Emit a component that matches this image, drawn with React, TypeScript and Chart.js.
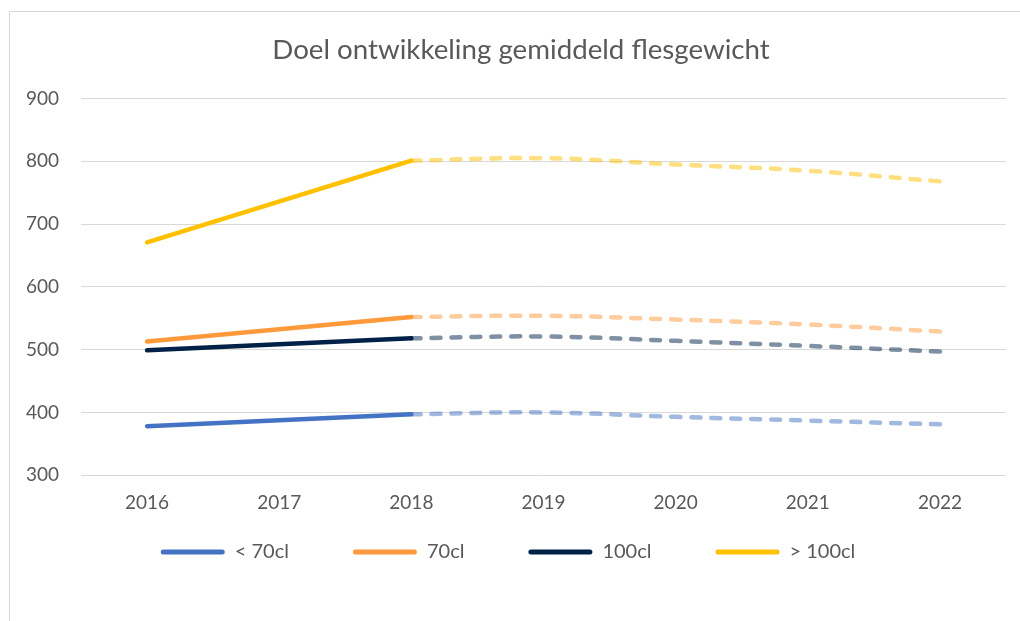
import React, { useEffect, useRef } from "react";
import { Chart, registerables } from "chart.js";

Chart.register(...registerables);

const years = ["2016", "2017", "2018", "2019", "2020", "2021", "2022"];
const yTicks = [300, 400, 500, 600, 700, 800, 900];
const seriesNames = ["< 70cl", "70cl", "100cl", "> 100cl"];
const seriesColors = ["#4472C4", "#FF9A3C", "#002147", "#FFC000"];
const targetColors = [
  "rgba(68,114,196,0.5)",
  "rgba(255,154,60,0.5)",
  "rgba(0,33,71,0.5)",
  "rgba(255,192,0,0.5)",
];

// actual (solid) values 2016-2018
const actualLt70 = [378, null, 397, null, null, null, null];
const actual70 = [513, null, 552, null, null, null, null];
const actual100 = [499, null, 518, null, null, null, null];
const actualGt100 = [671, null, 801, null, null, null, null];

// target (dashed) values 2018-2022
const targetLt70 = [null, null, 397, 400, 393, 387, 381];
const target70 = [null, null, 552, 554, 548, 540, 529];
const target100 = [null, null, 518, 521, 514, 506, 497];
const targetGt100 = [null, null, 801, 805, 795, 785, 768];

const actuals = [actualLt70, actual70, actual100, actualGt100];
const targets = [targetLt70, target70, target100, targetGt100];

const FONT = "Lato, 'Open Sans', sans-serif";
const TEXT = "#595959";

// keeps the wide horizontal spacing of legend items without the tall legend box,
// and nudges the title to the reference's horizontal position
const layoutTweakPlugin = {
  id: "layoutTweak",
  beforeLayout(chart: any) {
    const lg = chart.legend;
    if (lg && !lg.__patched) {
      const orig = lg.fit.bind(lg);
      lg.fit = function () {
        orig();
        this.height = 60;
      };
      lg.__patched = true;
    }
  },
  afterLayout(chart: any) {
    const lg = chart.legend;
    if (lg) {
      lg.top -= 52;
      lg.height = 110;
      lg.bottom = lg.top + 110;
    }
    const tb = chart.titleBlock;
    if (tb) {
      tb.left += 13;
      tb.right += 13;
    }
  },
};

export default function App() {
  const ref = useRef<HTMLCanvasElement | null>(null);

  useEffect(() => {
    if (!ref.current) return;
    const datasets: any[] = [];
    actuals.forEach((d, i) => {
      datasets.push({
        label: seriesNames[i],
        data: d,
        borderColor: seriesColors[i],
        backgroundColor: seriesColors[i],
        borderWidth: 4.5,
        borderCapStyle: "round",
        pointRadius: 0,
        spanGaps: true,
        tension: 0,
        order: 1,
      });
    });
    targets.forEach((d, i) => {
      datasets.push({
        label: seriesNames[i] + " doel",
        data: d,
        borderColor: targetColors[i],
        backgroundColor: targetColors[i],
        borderWidth: 4.5,
        borderDash: [9, 11],
        borderCapStyle: "round",
        pointRadius: 0,
        tension: 0.4,
        order: 2,
      });
    });

    const chart = new Chart(ref.current, {
      type: "line",
      data: { labels: years, datasets },
      plugins: [layoutTweakPlugin],
      options: {
        animation: false,
        responsive: true,
        maintainAspectRatio: false,
        layout: { padding: { left: 0, right: 14, top: 0, bottom: 31 } },
        plugins: {
          title: {
            display: true,
            text: "Doel ontwikkeling gemiddeld flesgewicht",
            color: TEXT,
            font: { family: FONT, size: 27.7, weight: "normal" },
            padding: { top: 21, bottom: 32.3 },
          },
          legend: {
            position: "bottom",
            labels: {
              color: TEXT,
              font: { family: FONT, size: 20 },
              boxWidth: 64,
              boxHeight: 5,
              padding: 64,
              useBorderRadius: true,
              generateLabels: (c: any) =>
                c.data.datasets.slice(0, 4).map((ds: any, i: number) => ({
                  text: ds.label,
                  fillStyle: ds.borderColor,
                  strokeStyle: ds.borderColor,
                  lineWidth: 0,
                  hidden: false,
                  datasetIndex: i,
                  borderRadius: 2.5,
                  fontColor: TEXT,
                })),
            },
          },
          tooltip: { enabled: false },
        },
        scales: {
          x: {
            offset: true,
            grid: { display: false, drawTicks: false },
            border: { display: false },
            ticks: {
              color: TEXT,
              font: { family: FONT, size: 19 },
              padding: 16,
            },
          },
          y: {
            min: 300,
            max: 900,
            afterBuildTicks: (s: any) => {
              s.ticks = yTicks.map((v) => ({ value: v }));
            },
            afterFit: (s: any) => {
              s.width = 71;
            },
            grid: { color: "#d9d9d9", lineWidth: 1, drawTicks: false },
            border: { display: false },
            ticks: {
              color: TEXT,
              font: { family: FONT, size: 19 },
              padding: 22,
            },
          },
        },
      },
    });
    return () => chart.destroy();
  }, []);

  return (
    <div
      style={{
        position: "absolute",
        left: 9,
        top: 11,
        width: 1030,
        height: 640,
        border: "1px solid #d9d9d9",
        background: "#fff",
      }}
    >
      <div style={{ position: "relative", width: 1010, height: 609 }}>
        <canvas ref={ref} />
      </div>
    </div>
  );
}
